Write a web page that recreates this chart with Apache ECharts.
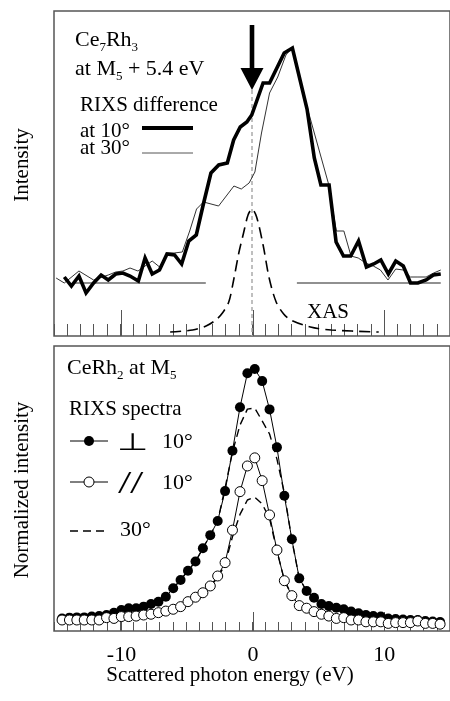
<!DOCTYPE html>
<html><head><meta charset="utf-8">
<script src="https://cdn.jsdelivr.net/npm/echarts@6/dist/echarts.min.js"></script>
<style>html,body{margin:0;padding:0;background:#fff}#c{width:450px;height:701px}</style>
</head><body><div id="c"></div>
<script>
// ---------- Top panel: Ce7Rh3 RIXS difference ----------
const diff10 = [[-14.22,0.06],[-13.68,-0.03],[-13.11,0.07],[-12.57,-0.10],[-12.00,0.00],[-11.43,0.08],[-10.89,0.03],[-10.32,0.09],[-9.78,0.10],[-9.24,0.07],[-8.61,0.02],[-8.10,0.25],[-7.56,0.09],[-7.01,0.13],[-6.44,0.29],[-5.87,0.28],[-5.33,0.19],[-4.79,0.42],[-4.22,0.48],[-3.70,0.78],[-3.11,1.10],[-2.52,1.18],[-1.87,1.20],[-1.39,1.43],[-0.89,1.56],[-0.39,1.61],[-0.02,1.68],[0.84,2.00],[1.33,2.00],[2.44,2.30],[3.06,2.35],[4.17,1.74],[4.72,1.25],[5.22,0.98],[5.84,0.98],[6.37,0.41],[6.93,0.27],[7.48,0.27],[8.07,0.42],[8.67,0.16],[9.22,0.19],[9.76,0.23],[10.33,0.09],[10.89,0.22],[11.46,0.17],[12.01,0.00],[12.57,0.00],[13.19,0.03],[13.74,0.08],[14.30,0.09]];
const diff30 = [[-14.84,0.05],[-14.22,0.00],[-13.11,0.12],[-12.00,0.03],[-10.89,0.08],[-10.33,0.11],[-9.78,0.12],[-9.24,0.15],[-8.64,0.12],[-7.56,0.22],[-7.00,0.16],[-6.44,0.30],[-5.90,0.30],[-5.28,0.31],[-4.72,0.52],[-4.20,0.74],[-3.67,0.81],[-2.53,0.77],[-1.37,0.97],[-0.81,0.94],[-0.22,1.00],[0.22,1.11],[0.72,1.50],[1.33,1.90],[1.95,2.06],[2.57,2.28],[3.06,2.36],[4.17,1.76],[5.78,1.00],[6.39,0.52],[6.96,0.52],[7.50,0.27],[8.05,0.25],[8.61,0.20],[9.19,0.17],[9.73,0.13],[10.30,0.03],[10.89,0.14],[11.46,0.13],[12.00,0.06],[12.57,0.06],[13.19,0.06],[13.76,0.10],[14.30,0.13]];
const xas = [[-6.2,-0.49],[-4.5,-0.47],[-3.48,-0.43],[-2.74,-0.37],[-2.24,-0.30],[-1.76,-0.19],[-1.39,0.03],[-1.0,0.30],[-0.64,0.50],[-0.3,0.68],[0,0.74],[0.35,0.66],[0.84,0.38],[1.3,0.05],[1.83,-0.19],[2.4,-0.31],[2.94,-0.37],[4.42,-0.44],[6.0,-0.47],[9.6,-0.49]];
const baseLeft = [[-13.6,0],[-3.5,0]];
const baseRight = [[3.4,0],[14.3,0]];
const arrowAt = [[0, 2.58, 2.15, 1.93]];
const markerLine = [[0,1.93],[0,-0.53]];

// ---------- Bottom panel: CeRh2 RIXS spectra ----------
const energies = [-14.39,-13.83,-13.27,-12.71,-12.14,-11.58,-11.02,-10.46,-9.90,-9.34,-8.78,-8.21,-7.65,-7.09,-6.53,-5.97,-5.41,-4.85,-4.28,-3.72,-3.16,-2.60,-2.04,-1.48,-0.91,-0.35,0.21,0.77,1.33,1.89,2.45,3.02,3.58,4.14,4.70,5.26,5.82,6.39,6.95,7.51,8.07,8.63,9.19,9.76,10.32,10.88,11.44,12.00,12.56,13.13,13.69,14.25];
const perp10 = [0.048,0.051,0.052,0.052,0.055,0.057,0.061,0.070,0.080,0.087,0.087,0.093,0.103,0.112,0.131,0.163,0.195,0.230,0.265,0.316,0.366,0.420,0.534,0.688,0.854,0.984,1.000,0.954,0.846,0.701,0.516,0.350,0.201,0.153,0.127,0.103,0.095,0.089,0.083,0.074,0.068,0.061,0.057,0.055,0.048,0.046,0.044,0.042,0.042,0.038,0.036,0.034];
const par10 = [0.042,0.042,0.042,0.042,0.042,0.042,0.051,0.048,0.055,0.055,0.057,0.061,0.064,0.070,0.076,0.083,0.093,0.112,0.129,0.146,0.172,0.210,0.261,0.385,0.532,0.630,0.661,0.574,0.443,0.309,0.192,0.135,0.097,0.087,0.074,0.064,0.057,0.048,0.051,0.042,0.042,0.035,0.035,0.035,0.029,0.032,0.032,0.032,0.038,0.029,0.029,0.026];
const perp30 = [0.048,0.051,0.052,0.052,0.055,0.057,0.061,0.070,0.080,0.087,0.087,0.093,0.103,0.112,0.131,0.163,0.195,0.230,0.265,0.316,0.366,0.420,0.546,0.683,0.786,0.847,0.851,0.802,0.752,0.656,0.527,0.347,0.201,0.153,0.127,0.103,0.095,0.089,0.083,0.074,0.068,0.061,0.057,0.055,0.048,0.046,0.044,0.042,0.042,0.038,0.036,0.034];
const par30 = [0.042,0.042,0.042,0.042,0.042,0.042,0.051,0.048,0.055,0.055,0.057,0.061,0.064,0.070,0.076,0.083,0.093,0.112,0.129,0.146,0.172,0.202,0.255,0.360,0.445,0.500,0.511,0.485,0.430,0.305,0.195,0.135,0.097,0.087,0.074,0.064,0.057,0.048,0.051,0.042,0.042,0.035,0.035,0.035,0.029,0.032,0.032,0.032,0.038,0.029,0.029,0.026];

const tickLabels = ['-10','0','10'];

const FONT = 'Liberation Serif';
const zip = (xs, ys) => xs.map((x, i) => [x, ys[i]]);

const chart = echarts.init(document.getElementById('c'), null, {renderer:'canvas'});

const minorAxis = (gi, len) => ({gridIndex: gi, type:'value', min:-15, max:15, interval:1, position:'bottom',
  axisLine:{show:false, onZero:false}, splitLine:{show:false}, axisLabel:{show:false},
  axisTick:{show:true, inside:true, length:len, lineStyle:{color:'#555', width:1}}});
const majorAxis = (gi, len, labels) => ({gridIndex: gi, type:'value', min:-10, max:15, interval:10, position:'bottom',
  axisLine:{show:false, onZero:false}, splitLine:{show:false},
  axisLabel:{show:labels, margin:13, fontFamily:FONT, fontSize:22, color:'#000', showMaxLabel:false,
    formatter: v => tickLabels.includes(String(v)) ? String(v) : ''},
  axisTick:{show:true, inside:true, length:len, lineStyle:{color:'#555', width:1}}});
const hiddenY = (gi, mn, mx) => ({gridIndex: gi, type:'value', min:mn, max:mx, show:false});

const text = (x, y, t, size, extra) => Object.assign({type:'text', x, y,
  style:{text:t, fontFamily:FONT, fontSize:size, fill:'#000', align:'left', verticalAlign:'middle'}}, extra||{});
const richText = (x, y, t, size) => ({type:'text', x, y,
  style:{text:t, fontFamily:FONT, fontSize:size, fill:'#000', align:'left', verticalAlign:'middle',
    rich:{a:{fontFamily:FONT, fontSize:size, lineHeight:28}, s:{fontFamily:FONT, fontSize:13, lineHeight:13, verticalAlign:'bottom'}}}});
const slash = (x) => ({type:'text', x, y:485,
  style:{text:'/', fontFamily:FONT, fontStyle:'italic', fontWeight:'bold', fontSize:32, fill:'#000', align:'left', verticalAlign:'middle'}});

const option = {
  animation:false,
  backgroundColor:'#fff',
  grid:[
    {left:54, right:-9.5, top:11, height:325, show:true, borderColor:'#555', borderWidth:1.5, backgroundColor:'transparent'},
    {left:121.5, right:-9.5, top:11, height:325, show:false},
    {left:54, right:-9.5, top:346, height:285, show:true, borderColor:'#555', borderWidth:1.5, backgroundColor:'transparent'},
    {left:121.5, right:-9.5, top:346, height:285, show:false}
  ],
  xAxis:[minorAxis(0,12), majorAxis(1,26,false), minorAxis(2,9), majorAxis(3,19,true)],
  yAxis:[hiddenY(0,-0.53,2.72), hiddenY(1,0,1), hiddenY(2,0,1.088), hiddenY(3,0,1)],
  series:[
    {type:'line', xAxisIndex:0, yAxisIndex:0, data:baseLeft, symbol:'none', lineStyle:{color:'#222', width:1.2}, z:2},
    {type:'line', xAxisIndex:0, yAxisIndex:0, data:baseRight, symbol:'none', lineStyle:{color:'#222', width:1.2}, z:2},
    {type:'line', xAxisIndex:0, yAxisIndex:0, data:markerLine, symbol:'none', lineStyle:{color:'#aaa', width:1.5, type:[4,3]}, z:1},
    {type:'line', xAxisIndex:0, yAxisIndex:0, data:xas, symbol:'none', smooth:0.3, lineStyle:{color:'#000', width:1.6, type:[11,6]}, z:3},
    {type:'line', xAxisIndex:0, yAxisIndex:0, data:diff30, symbol:'none', lineStyle:{color:'#333', width:1}, z:4},
    {type:'line', xAxisIndex:0, yAxisIndex:0, data:diff10, symbol:'none', lineStyle:{color:'#000', width:3.6, join:'miter'}, z:5},
    {type:'custom', xAxisIndex:0, yAxisIndex:0, data:arrowAt, z:6,
      encode:{x:0, y:[1,2,3]},
      renderItem:(params, api) => {
        const top = api.coord([api.value(0), api.value(1)]);
        const neck = api.coord([api.value(0), api.value(2)]);
        const tip = api.coord([api.value(0), api.value(3)]);
        const sw = 2.3, hw = 11.5;
        return {type:'polygon', shape:{points:[[top[0]-sw,top[1]],[top[0]+sw,top[1]],[neck[0]+sw,neck[1]],[neck[0]+hw,neck[1]],[tip[0],tip[1]],[neck[0]-hw,neck[1]],[neck[0]-sw,neck[1]]]}, style:{fill:'#000'}};
      }},
    {type:'line', xAxisIndex:2, yAxisIndex:2, data:zip(energies, perp30), symbol:'none', lineStyle:{color:'#000', width:1.4, type:[8,5]}, z:2},
    {type:'line', xAxisIndex:2, yAxisIndex:2, data:zip(energies, par30), symbol:'none', lineStyle:{color:'#000', width:1.4, type:[8,5]}, z:2},
    {type:'line', xAxisIndex:2, yAxisIndex:2, data:zip(energies, perp10), symbol:'circle', symbolSize:10, showAllSymbol:true,
      lineStyle:{color:'#000', width:1}, itemStyle:{color:'#000', borderWidth:0}, z:3},
    {type:'line', xAxisIndex:2, yAxisIndex:2, data:zip(energies, par10), symbol:'circle', symbolSize:10, showAllSymbol:true,
      lineStyle:{color:'#000', width:1}, itemStyle:{color:'#fff', borderColor:'#000', borderWidth:1}, z:4}
  ],
  graphic:[
    richText(75, 40, '{a|Ce}{s|7}{a|Rh}{s|3}', 22),
    richText(75, 69.5, '{a|at M}{s|5}{a| + 5.4 eV}', 22),
    text(80, 105.5, 'RIXS difference', 21),
    text(80, 131, 'at 10°', 21),
    {type:'line', shape:{x1:142, y1:128, x2:193, y2:128}, style:{stroke:'#000', lineWidth:4}},
    text(80, 148, 'at 30°', 21),
    {type:'line', shape:{x1:142, y1:153, x2:193, y2:153}, style:{stroke:'#555', lineWidth:1}},
    text(307, 312, 'XAS', 21),
    text(22, 165, 'Intensity', 21, {rotation:Math.PI/2, style:{text:'Intensity', fontFamily:FONT, fontSize:21, fill:'#000', align:'center', verticalAlign:'middle'}}),
    text(22, 490, 'Normalized intensity', 21, {rotation:Math.PI/2, style:{text:'Normalized intensity', fontFamily:FONT, fontSize:21, fill:'#000', align:'center', verticalAlign:'middle'}}),
    richText(67, 368.5, '{a|CeRh}{s|2}{a| at M}{s|5}', 22),
    text(69, 409.5, 'RIXS spectra', 21),
    {type:'line', shape:{x1:70, y1:441, x2:108, y2:441}, style:{stroke:'#000', lineWidth:1}},
    {type:'circle', shape:{cx:89, cy:441, r:5}, style:{fill:'#000'}},
    text(117, 444, '⊥', 24, {scaleX:1.5, style:{text:'⊥', fontFamily:'DejaVu Sans', fontSize:24, fill:'#000', align:'left', verticalAlign:'middle'}}),
    text(162, 442, '10°', 22),
    {type:'line', shape:{x1:70, y1:482, x2:108, y2:482}, style:{stroke:'#000', lineWidth:1}},
    {type:'circle', shape:{cx:89, cy:482, r:5}, style:{fill:'#fff', stroke:'#000', lineWidth:1}},
    slash(120), slash(132),
    text(162, 483, '10°', 22),
    {type:'line', shape:{x1:70, y1:531, x2:107, y2:531}, style:{stroke:'#000', lineWidth:1.4, lineDash:[8,5]}},
    text(120, 530, '30°', 22),
    text(230, 675, 'Scattered photon energy (eV)', 21, {style:{text:'Scattered photon energy (eV)', fontFamily:FONT, fontSize:21, fill:'#000', align:'center', verticalAlign:'middle'}})
  ]
};
chart.setOption(option);
</script></body></html>
